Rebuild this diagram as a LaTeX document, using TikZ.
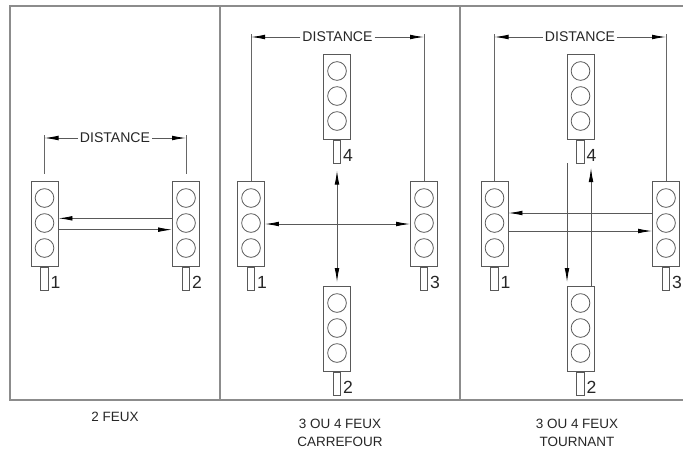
\documentclass[tikz,border=0pt]{standalone}
\usepackage{fontspec}
\setmainfont{Liberation Sans}
\usetikzlibrary{positioning,arrows.meta}

\tikzset{
  cadre/.style={draw=black!45, line width=1.3pt},
  boitier/.style={draw=black!65, line width=0.8pt, minimum width=0.81cm, minimum height=2.55cm, inner sep=0pt},
  lampe/.style={circle, draw=black!65, line width=0.7pt, minimum size=0.56cm, inner sep=0pt},
  poteau/.style={draw=black!65, line width=0.8pt, minimum width=0.22cm, minimum height=0.69cm, inner sep=0pt},
  numero/.style={font=\fontsize{15}{15}\selectfont, text=black!85, inner sep=0pt, anchor=base west},
  texte/.style={font=\fontsize{12}{12}\selectfont, text=black!85, inner sep=1.5pt},
  legende/.style={font=\fontsize{11.5}{15.3}\selectfont, text=black!85, align=center, inner sep=0pt},
  cote/.style={draw=black!60, line width=0.7pt},
  fleche/.style={draw=black!65, line width=0.7pt, -{Latex[length=0.42cm, width=0.14cm, color=black]}},
  fleches/.style={draw=black!65, line width=0.7pt, {Latex[length=0.42cm, width=0.14cm, color=black]}-{Latex[length=0.42cm, width=0.14cm, color=black]}},
}

% feu tricolore : nom, position, numero
\newcommand{\feu}[3]{%
  \node[boitier] (#1) at (#2) {};
  \node[lampe] (#1a) at ([yshift=0.78cm]#1.center) {};
  \node[lampe] (#1b) at ([yshift=0.03cm]#1.center) {};
  \node[lampe] (#1c) at ([yshift=-0.72cm]#1.center) {};
  \node[poteau, below=0pt of #1] (#1p) {};
  \node[numero] (#1n) at ([xshift=1.5pt, yshift=2pt]#1p.south east) {#3};
}

\begin{document}
\begin{tikzpicture}[x=0.03cm, y=-0.03cm]
  \clip (0,0) rectangle (683,449);
  % cadre
  \draw[cadre] (700,6) -- (10,6) -- (10,400) -- (700,400);
  \draw[cadre] (220,6) -- (220,400);
  \draw[cadre] (460,6) -- (460,400);

  % 2 feux
  \feu{a1}{44.5,224}{1}
  \feu{a2}{186,224}{2}
  \draw[fleche] ([yshift=0.17cm]a2.west) -- ([yshift=0.17cm]a1.east);
  \draw[fleche] ([yshift=-0.17cm]a1.east) -- ([yshift=-0.17cm]a2.west);
  \node[texte] (da) at (115,138) {DISTANCE};
  \coordinate (dag) at (a1.north |- da);
  \coordinate (dad) at (a2.north |- da);
  \draw[cote] ([yshift=0.09cm]dag) -- ([yshift=0.21cm]a1.north);
  \draw[cote] ([yshift=0.09cm]dad) -- ([yshift=0.21cm]a2.north);
  \draw[fleche] (da.west) -- (dag);
  \draw[fleche] (da.east) -- (dad);

  % carrefour
  \feu{b1}{251,224}{1}
  \feu{b3}{424,224}{3}
  \feu{b4}{337,97}{4}
  \feu{b2}{337,329}{2}
  \draw[fleches] (b1.east) -- (b3.west);
  \draw[fleches] ([yshift=-0.2cm]b4p.south) -- ([yshift=0.12cm]b2.north);
  \node[texte] (db) at (337.5,37) {DISTANCE};
  \coordinate (dbg) at (b1.north |- db);
  \coordinate (dbd) at (b3.north |- db);
  \draw[cote] ([yshift=0.09cm]dbg) -- (b1.north);
  \draw[cote] ([yshift=0.09cm]dbd) -- (b3.north);
  \draw[fleche] (db.west) -- (dbg);
  \draw[fleche] (db.east) -- (dbd);

  % tournant
  \feu{c1}{494.5,224}{1}
  \feu{c3}{666,224}{3}
  \feu{c4}{580.5,97}{4}
  \feu{c2}{580.5,329}{2}
  \draw[fleche] ([yshift=0.33cm]c3.west) -- ([yshift=0.33cm]c1.east);
  \draw[fleche] ([yshift=-0.21cm]c1.east) -- ([yshift=-0.21cm]c3.west);
  \coordinate (cg) at (567,163);
  \coordinate (cd) at (591,168);
  \draw[fleche] (cg) -- ([yshift=0.12cm]cg |- c2.north);
  \draw[fleche] (cd |- c2.north) -- (cd);
  \node[texte] (dc) at (580,37) {DISTANCE};
  \coordinate (dcg) at (c1.north |- dc);
  \coordinate (dcd) at (c3.north |- dc);
  \draw[cote] ([yshift=0.09cm]dcg) -- (c1.north);
  \draw[cote] ([yshift=0.09cm]dcd) -- (c3.north);
  \draw[fleche] (dc.west) -- (dcg);
  \draw[fleche] (dc.east) -- (dcd);

  % legendes
  \node[legende] (la) at (115,417) {2 FEUX};
  \node[legende] (lb) at (340,433) {3 OU 4 FEUX\\CARREFOUR};
  \node[legende] (lc) at (577,433) {3 OU 4 FEUX\\TOURNANT};
\end{tikzpicture}
\end{document}
